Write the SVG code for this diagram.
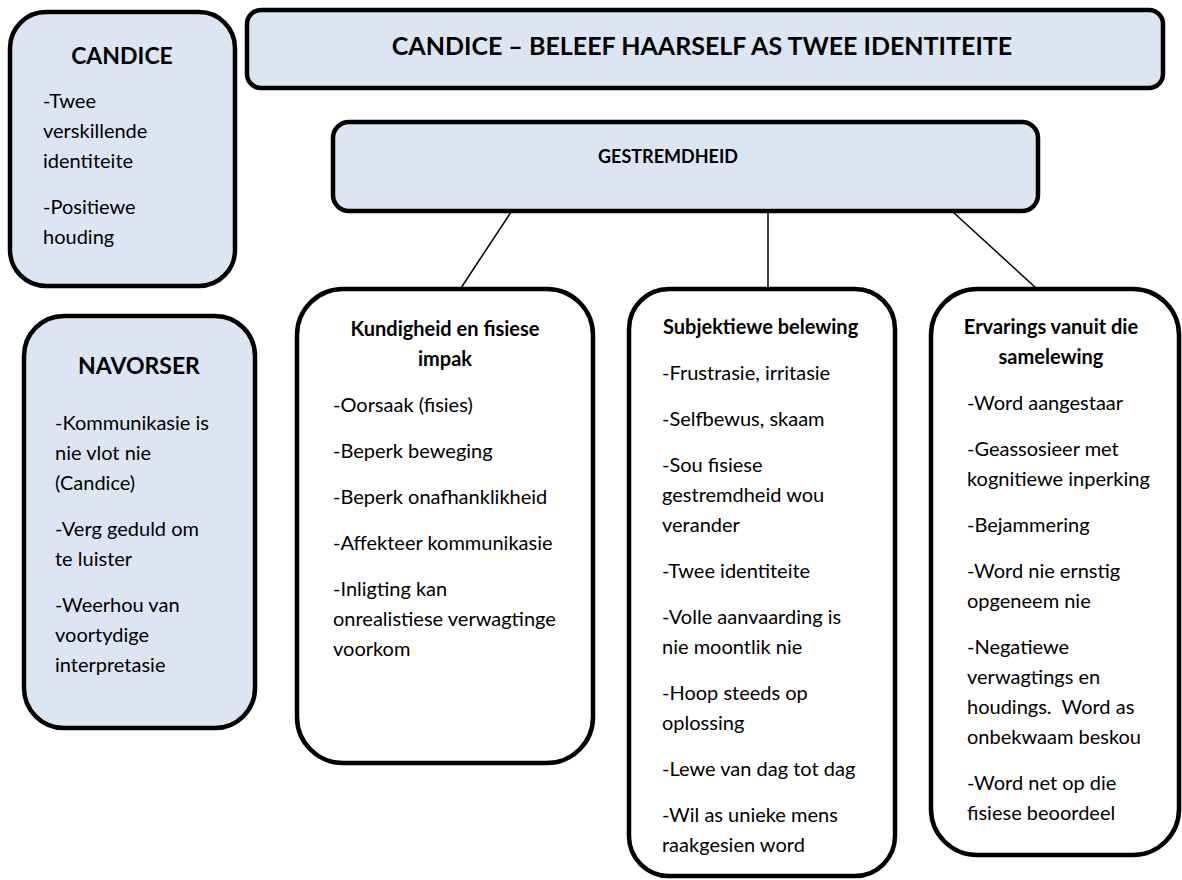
<svg xmlns="http://www.w3.org/2000/svg" width="1182" height="880" viewBox="0 0 1182 880">
  <style>
    .box { stroke: #000; stroke-width: 4.5; }
    .blue { fill: #dce6f2; }
    .white { fill: #ffffff; }
    .conn { stroke: #000; stroke-width: 1.5; fill: none; }
    text { font-family: Lato, "Liberation Sans", sans-serif; fill: #000; }
    .body { font-size: 20px; }
    .head { font-size: 20px; font-weight: 700; }
    .theme { font-size: 18px; font-weight: 700; }
    .big { font-size: 23px; font-weight: 700; }
    .title { font-size: 25px; font-weight: 700; }
    .mid { text-anchor: middle; }
  </style>

  <!-- connectors from GESTREMDHEID to the three theme boxes -->
  <g id="connectors">
    <line class="conn" x1="511" y1="212" x2="461" y2="288"/>
    <line class="conn" x1="768" y1="212" x2="768" y2="288"/>
    <line class="conn" x1="953" y1="212" x2="1036" y2="288"/>
  </g>

  <!-- left column: participant -->
  <g id="candice">
    <rect class="box blue" x="10" y="12" width="225" height="274" rx="36"/>
    <text class="big mid" x="122" y="64">CANDICE</text>
    <text class="body" x="43" y="108">-Twee</text>
    <text class="body" x="43" y="138">verskillende</text>
    <text class="body" x="43" y="168">identiteite</text>
    <text class="body" x="43" y="214">-Positiewe</text>
    <text class="body" x="43" y="244">houding</text>
  </g>

  <!-- left column: researcher -->
  <g id="navorser">
    <rect class="box blue" x="24" y="316" width="231" height="412" rx="40"/>
    <text class="big mid" x="139" y="374">NAVORSER</text>
    <text class="body" x="55" y="430">-Kommunikasie is</text>
    <text class="body" x="55" y="460">nie vlot nie</text>
    <text class="body" x="55" y="490">(Candice)</text>
    <text class="body" x="55" y="536">-Verg geduld om</text>
    <text class="body" x="55" y="566">te luister</text>
    <text class="body" x="55" y="612">-Weerhou van</text>
    <text class="body" x="55" y="642">voortydige</text>
    <text class="body" x="55" y="672">interpretasie</text>
  </g>

  <!-- main heading -->
  <g id="title">
    <rect class="box blue" x="247" y="10" width="916" height="78" rx="14"/>
    <text class="title mid" x="702" y="55">CANDICE – BELEEF HAARSELF AS TWEE IDENTITEITE</text>
  </g>

  <!-- central theme -->
  <g id="gestremdheid">
    <rect class="box blue" x="333" y="122" width="705" height="89" rx="16"/>
    <text class="theme" x="598" y="163">GESTREMDHEID</text>
  </g>

  <!-- sub-theme 1 -->
  <g id="kundigheid">
    <rect class="box white" x="297" y="289" width="296" height="474" rx="46"/>
    <text class="head mid" x="445" y="336">Kundigheid en fisiese</text>
    <text class="head mid" x="445" y="366">impak</text>
    <text class="body" x="333" y="412">-Oorsaak (fisies)</text>
    <text class="body" x="333" y="458">-Beperk beweging</text>
    <text class="body" x="333" y="504">-Beperk onafhanklikheid</text>
    <text class="body" x="333" y="550">-Affekteer kommunikasie</text>
    <text class="body" x="333" y="596">-Inligting kan</text>
    <text class="body" x="333" y="626">onrealistiese verwagtinge</text>
    <text class="body" x="333" y="656">voorkom</text>
  </g>

  <!-- sub-theme 2 -->
  <g id="subjektiewe">
    <rect class="box white" x="629" y="289" width="266" height="587" rx="40"/>
    <text class="head" x="663" y="334">Subjektiewe belewing</text>
    <text class="body" x="662" y="380">-Frustrasie, irritasie</text>
    <text class="body" x="662" y="426">-Selfbewus, skaam</text>
    <text class="body" x="662" y="472">-Sou fisiese</text>
    <text class="body" x="662" y="502">gestremdheid wou</text>
    <text class="body" x="662" y="532">verander</text>
    <text class="body" x="662" y="578">-Twee identiteite</text>
    <text class="body" x="662" y="624">-Volle aanvaarding is</text>
    <text class="body" x="662" y="654">nie moontlik nie</text>
    <text class="body" x="662" y="700">-Hoop steeds op</text>
    <text class="body" x="662" y="730">oplossing</text>
    <text class="body" x="662" y="776">-Lewe van dag tot dag</text>
    <text class="body" x="662" y="822">-Wil as unieke mens</text>
    <text class="body" x="662" y="852">raakgesien word</text>
  </g>

  <!-- sub-theme 3 -->
  <g id="ervarings">
    <rect class="box white" x="931" y="289" width="248" height="566" rx="46"/>
    <text class="head mid" x="1051" y="334">Ervarings vanuit die</text>
    <text class="head mid" x="1051" y="364">samelewing</text>
    <text class="body" x="967" y="410">-Word aangestaar</text>
    <text class="body" x="967" y="456">-Geassosieer met</text>
    <text class="body" x="967" y="486">kognitiewe inperking</text>
    <text class="body" x="967" y="532">-Bejammering</text>
    <text class="body" x="967" y="578">-Word nie ernstig</text>
    <text class="body" x="967" y="608">opgeneem nie</text>
    <text class="body" x="967" y="654">-Negatiewe</text>
    <text class="body" x="967" y="684">verwagtings en</text>
    <text class="body" x="967" y="714" xml:space="preserve">houdings.  Word as</text>
    <text class="body" x="967" y="744">onbekwaam beskou</text>
    <text class="body" x="967" y="790">-Word net op die</text>
    <text class="body" x="967" y="820">fisiese beoordeel</text>
  </g>
</svg>
